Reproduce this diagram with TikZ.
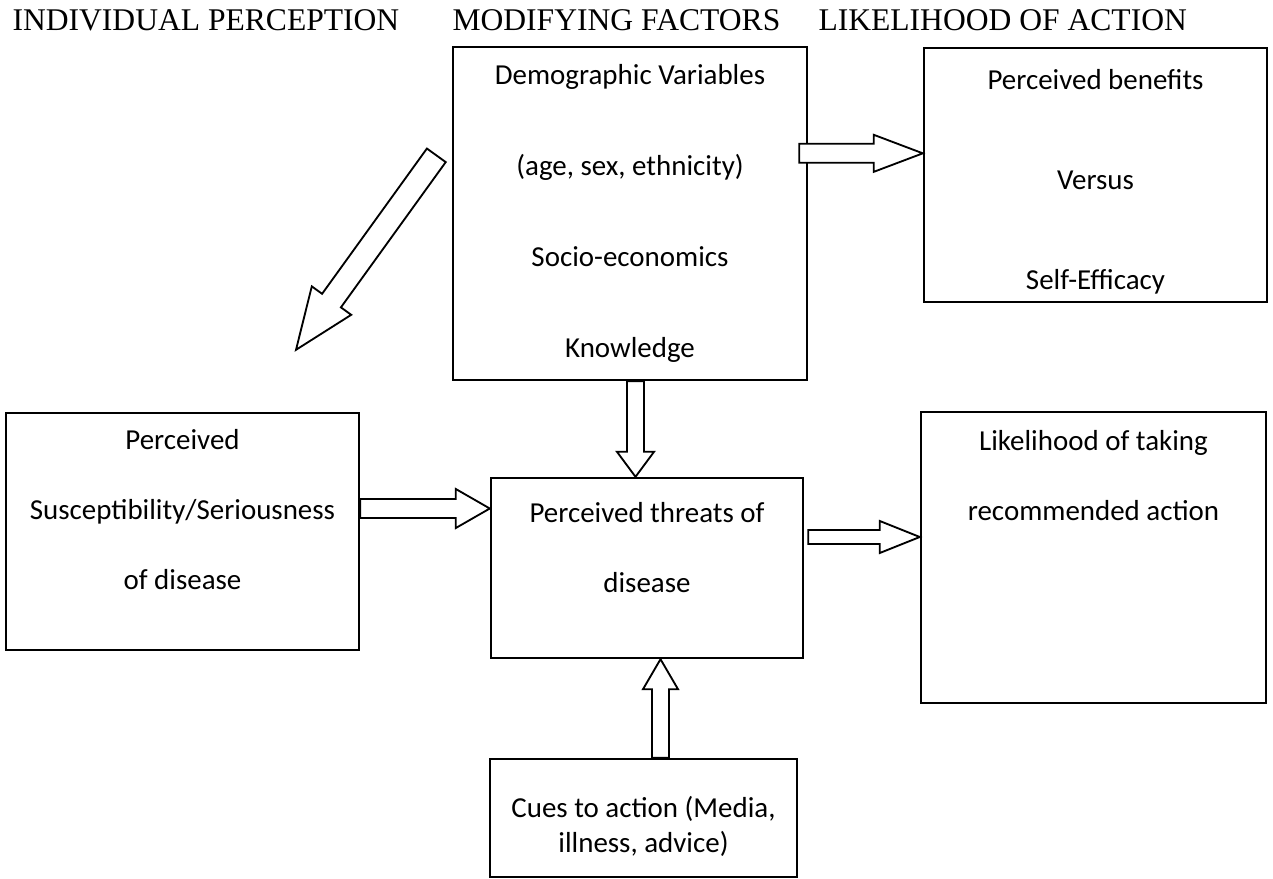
\documentclass[tikz,border=0pt]{standalone}
\usepackage{fontspec}
\setmainfont{Liberation Serif}
\newfontfamily\boxfont{Carlito}
\usetikzlibrary{calc,fit,positioning}

% hollow block arrow: tail, tip, shaft half width, head half width, head length (in px)
\newcommand{\blockarrow}[5]{%
  \coordinate (hb) at ($(#2)!#5*0.38pt!(#1)$);
  \draw[blockarr] ($(#1)!#3*0.38pt!90:(#2)$) -- ($(hb)!#3*0.38pt!-90:(#1)$)
    -- ($(hb)!#4*0.38pt!-90:(#1)$) -- (#2) -- ($(hb)!#4*0.38pt!90:(#1)$)
    -- ($(hb)!#3*0.38pt!90:(#1)$) -- ($(#1)!#3*0.38pt!-90:(#2)$) -- cycle;}

\begin{document}
\begin{tikzpicture}[
    x=0.38pt, y=-0.38pt,
    coltitle/.style={font=\fontsize{12}{14}\selectfont, inner sep=0pt, anchor=base west},
    box/.style={draw, line width=0.9pt, inner sep=0pt},
    boxtext/.style={font=\boxfont\fontsize{11}{26.7}\selectfont, align=center, inner sep=0pt, anchor=base},
    blockarr/.style={draw, fill=white, line width=0.7pt, line join=miter}
  ]
    \useasboundingbox (0,0) rectangle (1273,878);

    % column titles
    \node[coltitle] (tind) at (12,30) {INDIVIDUAL PERCEPTION};
    \node[coltitle] (tmod) at (452,30) {MODIFYING FACTORS};
    \node[coltitle] (tlik) at (818,30) {LIKELIHOOD OF ACTION};

    % boxes
    \node[box, fit={(453,47) (807,380)}] (demo) {};
    \node[box, fit={(924,48) (1267,302)}] (benef) {};
    \node[box, fit={(6,413) (359,650)}] (percv) {};
    \node[box, fit={(491,478) (803,658)}] (threat) {};
    \node[box, fit={(921,412) (1266,703)}] (likely) {};
    \node[box, fit={(490,759) (797,877)}] (cues) {};

    % box texts (base = last line)
    \node[boxtext, font=\boxfont\fontsize{11}{34.6}\selectfont] (demotxt) at ($(demo.north)+(0,312)$)
      {Demographic Variables\\(age, sex, ethnicity)\\Socio-economics\\Knowledge};
    \node[boxtext, font=\boxfont\fontsize{11}{38}\selectfont] (beneftxt) at ($(benef.north)+(0,243)$)
      {Perceived benefits\\Versus\\Self-Efficacy};
    \node[boxtext] (percvtxt) at ($(percv.north)+(0,178)$)
      {Perceived\\Susceptibility/Seriousness\\of disease};
    \node[boxtext] (threattxt) at ($(threat.north)+(0,116)$)
      {Perceived threats of\\disease};
    \node[boxtext] (likelytxt) at ($(likely.north)+(0,110)$)
      {Likelihood of taking\\recommended action};
    \node[boxtext, font=\boxfont\fontsize{11}{13.4}\selectfont] (cuestxt) at ($(cues.north)+(0,95)$)
      {Cues to action (Media,\\illness, advice)};

    % arrow ends
    \coordinate (a1s) at ($(demo.north east)+(-9,107.5)$);
    \coordinate (a2s) at ($(demo.south)+(5.5,0)$);
    \coordinate (a3s) at ($(percv.east)+(0,-23)$);
    \coordinate (a4s) at ($(cues.north)+(17,0)$);
    \coordinate (a5s) at ($(threat.east)+(4,-31)$);
    \coordinate (a6s) at ($(demo.north west)+(-15.5,109.5)$);
    \coordinate (a6e) at ($(percv.north)+(113.5,-62)$);

    % block arrows
    \blockarrow{a1s}{benef.west |- a1s}{9.5}{18.5}{49}
    \blockarrow{a2s}{a2s |- threat.north}{8.5}{18.5}{25}
    \blockarrow{a3s}{threat.west |- a3s}{9.5}{19.5}{34}
    \blockarrow{a4s}{a4s |- threat.south}{8.5}{17.5}{30}
    \blockarrow{a5s}{likely.west |- a5s}{7}{16}{40}
    \blockarrow{a6s}{a6e}{11.6}{24.3}{60.7}
\end{tikzpicture}
\end{document}
